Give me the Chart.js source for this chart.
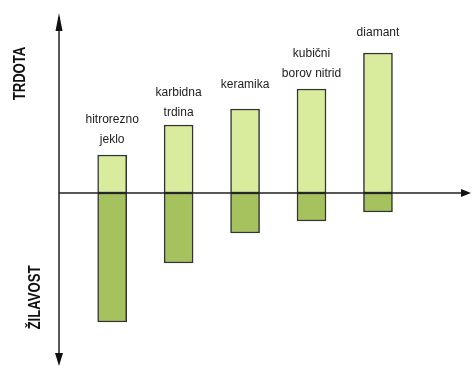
<!DOCTYPE html>
<html>
<head>
<meta charset="utf-8">
<script src="https://cdn.jsdelivr.net/npm/chart.js@4/dist/chart.umd.min.js"></script>
<style>
  html, body { margin: 0; padding: 0; background: #fff; }
  #wrap { width: 472px; height: 368px; }
</style>
</head>
<body>
<div id="wrap"><canvas id="myChart" width="472" height="368"></canvas></div>
<script>
// materials, top to bottom of each label
const categories = [
    ["hitrorezno", "jeklo"],
    ["karbidna", "trdina"],
    ["keramika"],
    ["kubični", "borov nitrid"],
    ["diamant"]
]
// hardness (up) and toughness (down), arbitrary units
const trdota = [3.8, 6.8, 8.4, 10.4, 14.0]
const zilavost = [12.9, 7.0, 4.0, 2.8, 1.9]
const axisTop = "TRDOTA"
const axisBottom = "ŽILAVOST"

// gap between the last label line and the bar top (px)
const labelGap = [12, 9, 21, 12, 17]

const ctx = document.getElementById("myChart")

const drawExtras = {
    id: "extras",
    afterDatasetsDraw(chart) {
        const c = chart.ctx
        const area = chart.chartArea
        const x0 = area.left
        const y0 = chart.scales.y.getPixelForValue(0)

        // axis lines
        c.save()
        c.strokeStyle = "#222"
        c.fillStyle = "#111"
        c.lineWidth = 1.5
        c.beginPath()
        c.moveTo(x0, area.top + 4)
        c.lineTo(x0, area.bottom - 4)
        c.moveTo(x0, y0)
        c.lineTo(area.right - 4, y0)
        c.stroke()

        // arrow heads
        c.beginPath()
        c.moveTo(x0, area.top)
        c.lineTo(x0 + 3.5, area.top + 18)
        c.lineTo(x0 - 3.5, area.top + 18)
        c.closePath()
        c.fill()
        c.beginPath()
        c.moveTo(x0, area.bottom)
        c.lineTo(x0 + 4, area.bottom - 13)
        c.lineTo(x0 - 4, area.bottom - 13)
        c.closePath()
        c.fill()
        c.beginPath()
        c.moveTo(area.right, y0)
        c.lineTo(area.right - 10, y0 - 4)
        c.lineTo(area.right - 10, y0 + 4)
        c.closePath()
        c.fill()
        c.restore()

        // bar labels
        const meta = chart.getDatasetMeta(0)
        c.save()
        c.font = "12px 'Liberation Sans', Arial, sans-serif"
        c.fillStyle = "#222"
        c.textAlign = "center"
        c.textBaseline = "alphabetic"
        meta.data.forEach(function (bar, i) {
            const lines = categories[i]
            const base = bar.y - labelGap[i]
            for (let k = 0; k < lines.length; k++) {
                c.fillText(lines[k], bar.x, base - (lines.length - 1 - k) * 20)
            }
        })
        c.restore()

        // vertical axis titles
        c.save()
        c.font = "bold 16px 'Liberation Sans', Arial, sans-serif"
        c.fillStyle = "#111"
        c.textAlign = "center"
        c.textBaseline = "alphabetic"
        c.translate(25, 73.5)
        c.rotate(-Math.PI / 2)
        c.scale(0.82, 1)
        c.fillText(axisTop, 0, 0)
        c.restore()

        c.save()
        c.font = "bold 16px 'Liberation Sans', Arial, sans-serif"
        c.fillStyle = "#111"
        c.textAlign = "center"
        c.textBaseline = "alphabetic"
        c.translate(40, 297.5)
        c.rotate(-Math.PI / 2)
        c.scale(0.82, 1)
        c.fillText(axisBottom, 0, 0)
        c.restore()
    }
}

new Chart(ctx, {
    type: "bar",
    data: {
        datasets: [
            {
                label: axisTop,
                data: trdota.map(function (v, i) { return { x: i + 1, y: v } }),
                backgroundColor: "#d9ec9e",
                borderColor: "#333",
                borderWidth: 1.5,
                borderSkipped: false,
                barThickness: 29,
                grouped: false
            },
            {
                label: axisBottom,
                data: zilavost.map(function (v, i) { return { x: i + 1, y: -v } }),
                backgroundColor: "#a5c25e",
                borderColor: "#333",
                borderWidth: 1.5,
                borderSkipped: false,
                barThickness: 29,
                grouped: false
            }
        ]
    },
    options: {
        responsive: false,
        animation: false,
        layout: { padding: { left: 59, right: 1, top: 13, bottom: 2 } },
        plugins: {
            legend: { display: false },
            tooltip: { enabled: false }
        },
        scales: {
            x: { type: "linear", min: 0.2, max: 6.4, offset: false, display: false },
            y: { type: "linear", min: -17.3, max: 18, display: false }
        }
    },
    plugins: [drawExtras]
})
</script>
</body>
</html>
